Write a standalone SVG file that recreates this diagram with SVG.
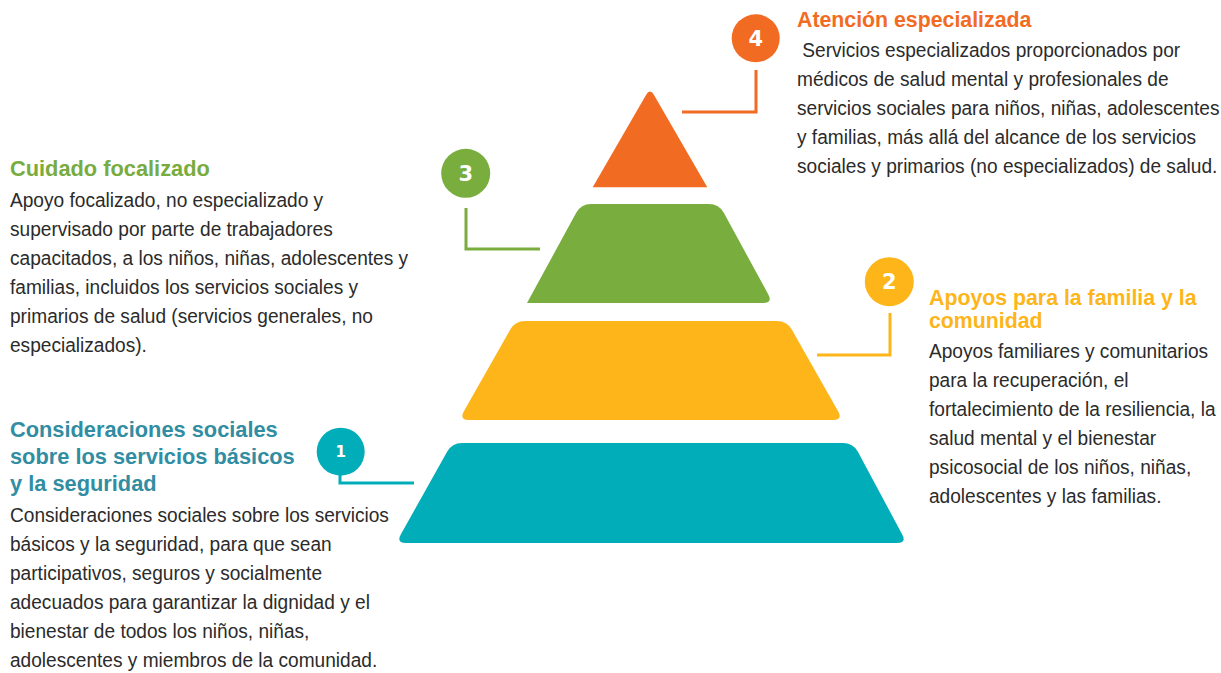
<svg xmlns="http://www.w3.org/2000/svg" width="1221" height="673" viewBox="0 0 1221 673">
<style>
.title{font-family:"Liberation Sans",Arial,sans-serif;font-weight:bold;font-size:21.3px}
.title.big{font-size:21.8px}
.body{font-family:"Liberation Sans",Arial,sans-serif;font-size:21px;fill:#2b2b2b}
.num{font-family:"DejaVu Sans",sans-serif;font-weight:bold;fill:#ffffff;text-anchor:middle}
.conn{fill:none;stroke-width:3}
</style>
<rect width="1221" height="673" fill="#ffffff"/>
<g id="connectors">
<path class="conn" stroke="#F26B22" d="M682,112 H756 V70"/>
<path class="conn" stroke="#79AD3E" d="M466,208 V249 H540"/>
<path class="conn" stroke="#FDB51A" d="M817,355 H890 V313"/>
<path class="conn" stroke="#00ADB9" d="M414,483 H340 V473"/>
</g>
<g id="level4">
<path fill="#F26B22" d="M592.7,187.3 L646,94.9 Q650,88 654,94.9 L707.3,187.3 Z"/>
<circle cx="755.7" cy="38.3" r="24" fill="#F26B22"/>
<text class="num" x="755.7" y="46" font-size="21">4</text>
<text class="title" x="797" y="26.5" fill="#F26B22">Atención especializada</text>
<g transform="translate(797,0) scale(0.91,1)">
<text class="body" style="white-space:pre"><tspan x="0" y="57"> Servicios especializados proporcionados por</tspan></text>
<text class="body"><tspan x="0" y="86">médicos de salud mental y profesionales de</tspan><tspan x="0" y="115">servicios sociales para niños, niñas, adolescentes</tspan><tspan x="0" y="144">y familias, más allá del alcance de los servicios</tspan><tspan x="0" y="173">sociales y primarios (no especializados) de salud.</tspan></text>
</g>
</g>
<g id="level3">
<path fill="#79AD3E" d="M591,204 L709,204 Q719,204 723.8,212.8 L768.2,294.2 Q773,303 763,303 L527,303 L576.2,212.8 Q581,204 591,204 Z"/>
<circle cx="465.7" cy="173.3" r="24.5" fill="#79AD3E"/>
<text class="num" x="465.7" y="181" font-size="21">3</text>
<text class="title big" x="10" y="176" fill="#78AC3E">Cuidado focalizado</text>
<g transform="translate(10,0) scale(0.91,1)">
<text class="body"><tspan x="0" y="207">Apoyo focalizado, no especializado y</tspan><tspan x="0" y="236">supervisado por parte de trabajadores</tspan><tspan x="0" y="265">capacitados, a los niños, niñas, adolescentes y</tspan><tspan x="0" y="294">familias, incluidos los servicios sociales y</tspan><tspan x="0" y="323">primarios de salud (servicios generales, no</tspan><tspan x="0" y="352">especializados).</tspan></text>
</g>
</g>
<g id="level2">
<path fill="#FDB51A" d="M525,321 L777,321 Q787,321 791.9,329.7 L838.1,411.3 Q843,420 833,420 L469,420 Q459,420 463.9,411.3 L510.1,329.7 Q515,321 525,321 Z"/>
<circle cx="889.3" cy="281.7" r="24.5" fill="#FDB51A"/>
<text class="num" x="889.3" y="289.4" font-size="21">2</text>
<text class="title" fill="#FDB51A"><tspan x="929" y="305">Apoyos para la familia y la</tspan><tspan x="929" y="328">comunidad</tspan></text>
<g transform="translate(929,0) scale(0.91,1)">
<text class="body"><tspan x="0" y="358.5">Apoyos familiares y comunitarios</tspan><tspan x="0" y="387.5">para la recuperación, el</tspan><tspan x="0" y="416.5">fortalecimiento de la resiliencia, la</tspan><tspan x="0" y="445.5">salud mental y el bienestar</tspan><tspan x="0" y="474.5">psicosocial de los niños, niñas,</tspan><tspan x="0" y="503">adolescentes y las familias.</tspan></text>
</g>
</g>
<g id="level1">
<path fill="#00ADB9" d="M462,443 L843,443 Q853,443 857.9,451.7 L902.1,534.3 Q907,543 897,543 L406,543 Q396,543 400.9,534.3 L447.1,451.7 Q452,443 462,443 Z"/>
<circle cx="340.7" cy="451.7" r="24" fill="#00ADB9"/>
<text class="num" x="340.7" y="457" font-size="15">1</text>
<text class="title big" fill="#318DA2"><tspan x="10" y="437">Consideraciones sociales</tspan><tspan x="10" y="464">sobre los servicios básicos</tspan><tspan x="10" y="491">y la seguridad</tspan></text>
<g transform="translate(10,0) scale(0.91,1)">
<text class="body"><tspan x="0" y="522">Consideraciones sociales sobre los servicios</tspan><tspan x="0" y="551">básicos y la seguridad, para que sean</tspan><tspan x="0" y="580">participativos, seguros y socialmente</tspan><tspan x="0" y="609">adecuados para garantizar la dignidad y el</tspan><tspan x="0" y="638">bienestar de todos los niños, niñas,</tspan><tspan x="0" y="667">adolescentes y miembros de la comunidad.</tspan></text>
</g>
</g>
</svg>
